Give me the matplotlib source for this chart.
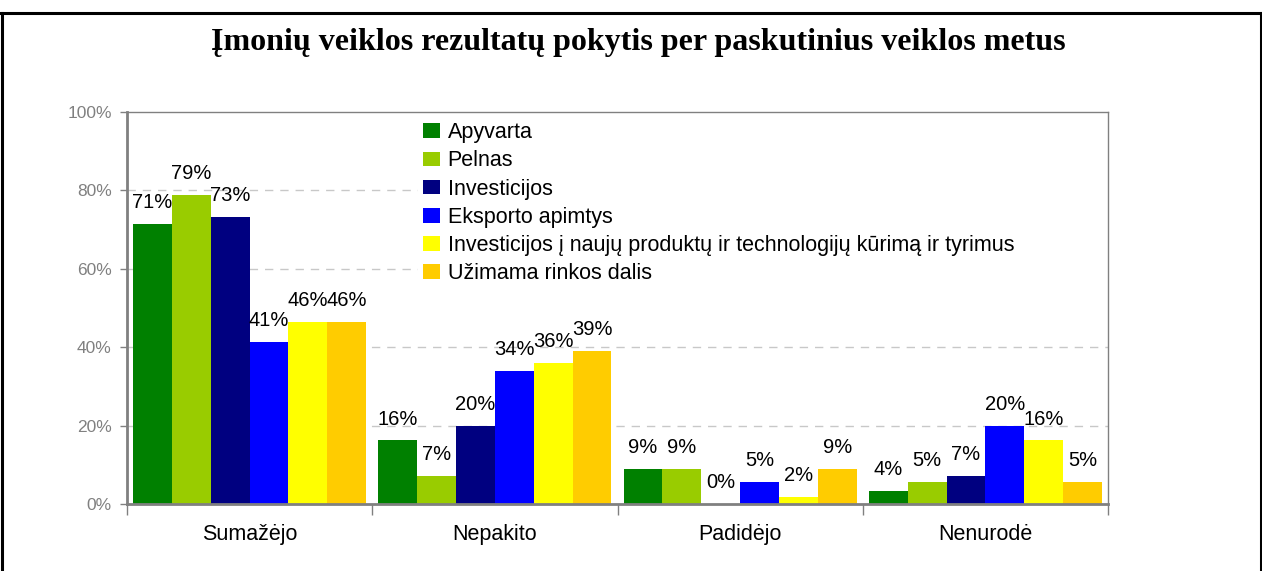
import matplotlib.pyplot as plt
from matplotlib.lines import Line2D
from matplotlib.patches import Rectangle
import numpy as np

categories = ['Sumažėjo', 'Nepakito', 'Padidėjo', 'Nenurodė']
series = ['Apyvarta', 'Pelnas', 'Investicijos', 'Eksporto apimtys',
          'Investicijos į naujų produktų ir technologijų kūrimą ir tyrimus',
          'Užimama rinkos dalis']
colors = ['#008000', '#99cc00', '#000080', '#0000ff', '#ffff00', '#ffcc00']

# bar heights (percent)
values = [
    [71.4, 78.8, 73.2, 41.3, 46.4, 46.4],   # Sumažėjo
    [16.2, 7.2, 19.8, 33.9, 35.9, 39.0],    # Nepakito
    [9.0, 9.0, 0.0, 5.7, 1.8, 9.0],         # Padidėjo
    [3.4, 5.7, 7.2, 19.8, 16.2, 5.7],       # Nenurodė
]
# data labels as printed on the chart
labels = [
    ['71%', '79%', '73%', '41%', '46%', '46%'],
    ['16%', '7%', '20%', '34%', '36%', '39%'],
    ['9%', '9%', '0%', '5%', '2%', '9%'],
    ['4%', '5%', '7%', '20%', '16%', '5%'],
]

W, H = 1262, 571
fig = plt.figure(figsize=(W / 100, H / 100), dpi=100)
ax = fig.add_axes([127 / W, 1 - 504 / H, (1108 - 127) / W, (504 - 112) / H])

gray = '#808080'
bw = 0.1585
off = 0.0245
vals = np.array(values)
for j, name in enumerate(series):
    x = np.arange(len(categories)) + off + j * bw
    ax.bar(x, vals[:, j], width=bw, align='edge', color=colors[j],
           label=name, zorder=2)
    for i in range(len(categories)):
        ax.annotate(labels[i][j], (x[i] + bw / 2, vals[i, j]),
                    xytext=(0, 11.5), textcoords='offset points',
                    ha='center', va='baseline', fontsize=14.5,
                    family='Liberation Sans', color='black', zorder=4)

ax.set_xlim(0, len(categories))
ax.set_ylim(0, 100)
ax.set_yticks(range(0, 101, 20))
ax.set_yticklabels(['%d%%' % v for v in range(0, 101, 20)],
                   fontsize=12.5, color=gray, family='Liberation Sans')
ax.set_xticks(range(len(categories) + 1))
ax.set_xticklabels([])
ax.set_xticks(np.arange(len(categories)) + 0.5, minor=True)
ax.set_xticklabels(categories, minor=True, fontsize=15.5,
                   family='Liberation Sans')
ax.tick_params(axis='x', which='major', length=8, color=gray, width=1)
ax.tick_params(axis='x', which='minor', length=0, pad=14.5)
ax.tick_params(axis='y', length=5, color=gray, width=1, pad=6)

for g in range(20, 100, 20):
    ax.axhline(g, color='#c8c8c8', lw=1, ls=(0, (6, 5)), zorder=1)

# white legend area reaching the right edge of the plot
lx = (418 - 127) / (1108 - 127)
ly = (504 - 290) / (504 - 112)
ax.add_patch(Rectangle((lx, ly), 1 - lx, 1 - ly, transform=ax.transAxes,
                       facecolor='white', edgecolor='none', zorder=1.5))

for s in ['left', 'bottom']:
    ax.spines[s].set_color(gray)
    ax.spines[s].set_linewidth(2)
for s in ['top', 'right']:
    ax.spines[s].set_color(gray)
    ax.spines[s].set_linewidth(1)

leg = ax.legend(loc='upper left', bbox_to_anchor=(418 / W, 1 - 117 / H),
                bbox_transform=fig.transFigure, frameon=True, fancybox=False,
                framealpha=1, facecolor='white', edgecolor='none',
                prop={'family': 'Liberation Sans', 'size': 15.5},
                handlelength=0.75, handleheight=0.68, handletextpad=0.38,
                labelspacing=0.33, borderpad=0.25, borderaxespad=0)
leg.set_zorder(5)

fig.text(638 / W, 1 - 50 / H,
         'Įmonių veiklos rezultatų pokytis per paskutinius veiklos metus',
         ha='center', va='baseline', fontsize=23, fontweight='bold',
         family='Liberation Serif')

# outer frame (bottom edge is cut off in the source)
fy = 1 - 13 / H
fig.add_artist(Line2D([1.5 / W, 1.5 / W], [0, fy], color='black', lw=2.2,
                      transform=fig.transFigure))
fig.add_artist(Line2D([0, 1], [fy, fy], color='black', lw=2.2,
                      transform=fig.transFigure))
fig.add_artist(Line2D([1 - 1.5 / W, 1 - 1.5 / W], [0, fy], color='black',
                      lw=2.2, transform=fig.transFigure))

fig.savefig('out.png', dpi=100)
